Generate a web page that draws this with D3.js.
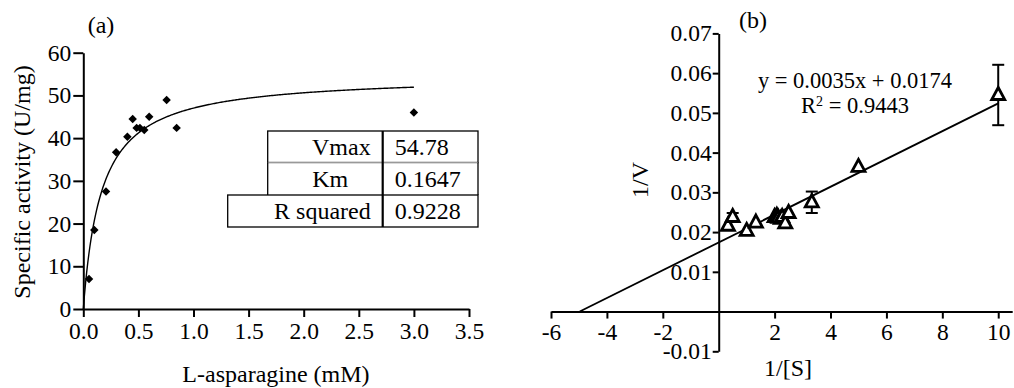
<!DOCTYPE html>
<html>
<head>
<meta charset="utf-8">
<script src="https://cdn.jsdelivr.net/npm/d3@7"></script>
<style>
  body { margin: 0; background: #fff; }
  svg text { font-family: "Liberation Serif", "DejaVu Serif", serif !important; fill: #000; }
  .axis path, .axis line { stroke: #000; stroke-width: 2; }
</style>
</head>
<body>
<div id="chart"></div>
<script>
const width = 1014, height = 388;

// panel (a): Michaelis-Menten
const substrate = [0.052, 0.1, 0.206, 0.298, 0.40, 0.448, 0.484, 0.514, 0.553, 0.598, 0.756, 0.847, 3.0];
const activity = [7.0, 18.5, 27.5, 36.7, 40.3, 44.5, 42.4, 42.4, 41.9, 45.0, 48.9, 42.4, 46.0];
const vmax = 54.78, km = 0.1647;
const tableRows = [["Vmax", "54.78"], ["Km", "0.1647"], ["R squared", "0.9228"]];
const xTicksA = [0, 0.5, 1, 1.5, 2, 2.5, 3, 3.5];
const yTicksA = [0, 10, 20, 30, 40, 50, 60];

// panel (b): Lineweaver-Burk
const invS = [0.33, 0.5, 1.0, 1.33, 2.0, 2.08, 2.13, 2.22, 2.27, 2.38, 2.5, 3.33, 5.0, 10.0];
const invV = [0.0216, 0.0238, 0.0203, 0.0224, 0.0238, 0.0241, 0.0236, 0.0233, 0.0238, 0.0222, 0.0248, 0.0275, 0.0364, 0.0545];
const invVErr = [0, 0.001, 0, 0, 0, 0, 0, 0, 0, 0, 0, 0.0027, 0, 0.0076];
const slope = 0.0035, intercept = 0.0174;
const xTicksB = [-6, -4, -2, 2, 4, 6, 8, 10];
const yTicksB = [-0.01, 0.01, 0.02, 0.03, 0.04, 0.05, 0.06, 0.07];

const tickFont = 23.5;

const svg = d3.select("#chart").append("svg")
    .attr("width", width)
    .attr("height", height);

function styleAxis(g) {
    g.attr("font-size", tickFont);
    g.selectAll("text").attr("font-size", tickFont);
}

// ---------- panel (a) ----------
const xA = d3.scaleLinear().domain([0, 3.5]).range([83.3, 469]);
const yA = d3.scaleLinear().domain([0, 60]).range([309, 52.7]);

svg.append("g")
    .attr("class", "axis")
    .attr("transform", `translate(0,${yA(0)})`)
    .call(d3.axisBottom(xA).tickValues(xTicksA).tickFormat(d3.format(".1f")).tickSize(8).tickSizeOuter(0).tickPadding(5))
    .call(styleAxis);

svg.append("g")
    .attr("class", "axis")
    .attr("transform", `translate(${xA(0)},0)`)
    .call(d3.axisLeft(yA).tickValues(yTicksA).tickSize(10).tickSizeOuter(0).tickPadding(2))
    .call(styleAxis);

const curve = d3.range(0, 3.0001, 0.01).map(s => [s, vmax * s / (km + s)]);
svg.append("path")
    .datum(curve)
    .attr("fill", "none")
    .attr("stroke", "#000")
    .attr("stroke-width", 1.4)
    .attr("d", d3.line().x(d => xA(d[0])).y(d => yA(d[1])));

svg.append("g")
    .selectAll("path")
    .data(substrate.map((s, i) => [s, activity[i]]))
    .join("path")
    .attr("d", d3.symbol(d3.symbolSquare, 36))
    .attr("transform", d => `translate(${xA(d[0])},${yA(d[1])}) rotate(45)`)
    .attr("fill", "#000");

// results table
const table = svg.append("g").attr("font-size", 24);
const rowY = [131, 162.5, 195, 227];
const colX = [267.7, 382.7, 478];
tableRows.forEach((r, i) => {
    const left = i === 2 ? 227.7 : colX[0];
    table.append("rect")
        .attr("x", left).attr("y", rowY[i])
        .attr("width", colX[2] - left).attr("height", rowY[i + 1] - rowY[i])
        .attr("fill", "none").attr("stroke", i === 1 ? "none" : "#000").attr("stroke-width", 1.3);
    table.append("text")
        .attr("x", i === 1 ? (colX[0] + colX[1]) / 2 + 5 : colX[1] - 12)
        .attr("y", (rowY[i] + rowY[i + 1]) / 2 + 8)
        .attr("text-anchor", i === 1 ? "middle" : "end")
        .text(r[0]);
    table.append("text")
        .attr("x", colX[1] + 12)
        .attr("y", (rowY[i] + rowY[i + 1]) / 2 + 8)
        .text(r[1]);
});
// Km row borders (thin grey top line)
table.append("line").attr("x1", colX[0]).attr("x2", colX[2]).attr("y1", rowY[1]).attr("y2", rowY[1])
    .attr("stroke", "#999").attr("stroke-width", 1);
table.append("line").attr("x1", colX[0]).attr("x2", colX[0]).attr("y1", rowY[1]).attr("y2", rowY[2])
    .attr("stroke", "#000").attr("stroke-width", 1.3);
table.append("line").attr("x1", colX[2]).attr("x2", colX[2]).attr("y1", rowY[1]).attr("y2", rowY[2])
    .attr("stroke", "#000").attr("stroke-width", 1.3);
table.append("line").attr("x1", colX[1]).attr("x2", colX[1]).attr("y1", rowY[0]).attr("y2", rowY[3])
    .attr("stroke", "#000").attr("stroke-width", 2.2);

svg.append("text")
    .attr("x", 276).attr("y", 382)
    .attr("text-anchor", "middle").attr("font-size", 24)
    .text("L-asparagine (mM)");

svg.append("text")
    .attr("transform", "translate(30,182) rotate(-90)")
    .attr("text-anchor", "middle").attr("font-size", 24)
    .text("Specific activity (U/mg)");

svg.append("text")
    .attr("x", 101).attr("y", 33)
    .attr("text-anchor", "middle").attr("font-size", 24)
    .text("(a)");

// ---------- panel (b) ----------
const xB = d3.scaleLinear().domain([-6, 10.5]).range([551, 1012.2]);
const yB = d3.scaleLinear().domain([-0.01, 0.07]).range([351.3, 33.4]);

svg.append("g")
    .attr("class", "axis")
    .attr("transform", `translate(0,${yB(0)})`)
    .call(d3.axisBottom(xB).tickValues(xTicksB).tickFormat(d => d < 0 ? "-" + Math.abs(d) : d).tickSize(7).tickSizeOuter(0).tickPadding(5))
    .call(styleAxis);

svg.append("g")
    .attr("class", "axis")
    .attr("transform", `translate(${xB(0)},0)`)
    .call(d3.axisLeft(yB).tickValues(yTicksB).tickFormat(d => d < 0 ? "-" + d3.format(".2f")(-d) : d3.format(".2f")(d)).tickSize(6).tickSizeOuter(0).tickPadding(1))
    .call(styleAxis);

svg.append("line")
    .attr("x1", xB(-intercept / slope)).attr("y1", yB(0))
    .attr("x2", xB(10)).attr("y2", yB(slope * 10 + intercept))
    .attr("stroke", "#000").attr("stroke-width", 1.8);

const pts = invS.map((s, i) => ({ x: s, y: invV[i], e: invVErr[i] }));

const err = svg.append("g").attr("stroke", "#000").attr("stroke-width", 2);
pts.filter(d => d.e > 0).forEach(d => {
    err.append("line").attr("x1", xB(d.x)).attr("x2", xB(d.x)).attr("y1", yB(d.y - d.e)).attr("y2", yB(d.y + d.e));
    [d.y - d.e, d.y + d.e].forEach(v => {
        err.append("line").attr("x1", xB(d.x) - 6).attr("x2", xB(d.x) + 6).attr("y1", yB(v)).attr("y2", yB(v));
    });
});

const tri = "M0,-7.5L6.5,4.5L-6.5,4.5Z";
svg.append("g")
    .selectAll("path")
    .data(pts)
    .join("path")
    .attr("d", tri)
    .attr("transform", d => `translate(${xB(d.x)},${yB(d.y)})`)
    .attr("fill", "#fff")
    .attr("stroke", "#000")
    .attr("stroke-width", 2.8)
    .attr("stroke-linejoin", "miter");

svg.append("text")
    .attr("x", 855).attr("y", 88)
    .attr("text-anchor", "middle").attr("font-size", 22.5)
    .text("y = 0.0035x + 0.0174");

const r2 = svg.append("text")
    .attr("x", 855).attr("y", 113)
    .attr("text-anchor", "middle").attr("font-size", 22.5);
r2.append("tspan").text("R");
r2.append("tspan").attr("font-size", 14).attr("dy", -7).text("2");
r2.append("tspan").attr("dy", 7).text(" = 0.9443");

svg.append("text")
    .attr("x", 788).attr("y", 376)
    .attr("text-anchor", "middle").attr("font-size", 24)
    .text("1/[S]");

svg.append("text")
    .attr("transform", "translate(648,180) rotate(-90)")
    .attr("text-anchor", "middle").attr("font-size", 24)
    .text("1/V");

svg.append("text")
    .attr("x", 753).attr("y", 28)
    .attr("text-anchor", "middle").attr("font-size", 24)
    .text("(b)");
</script>
</body>
</html>
